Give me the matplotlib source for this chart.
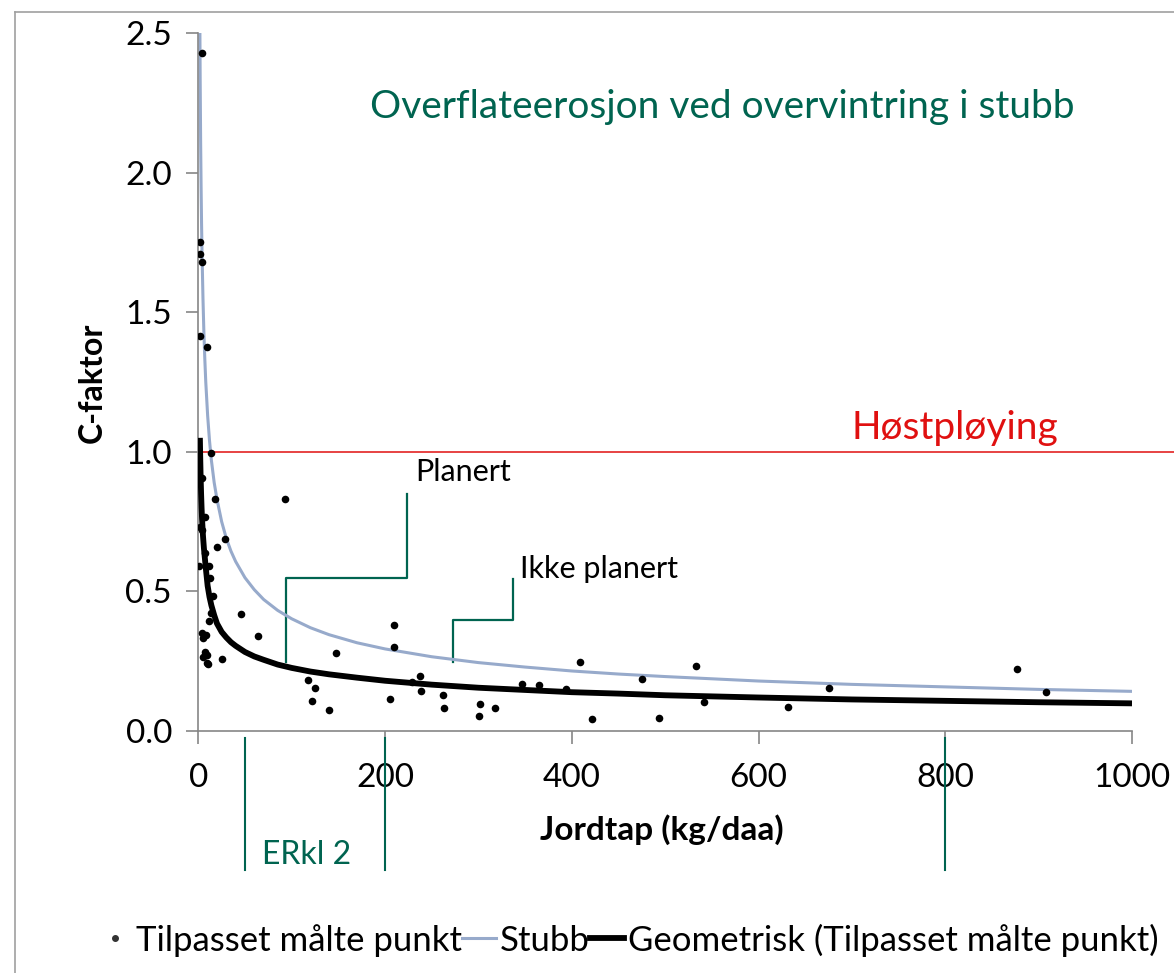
import matplotlib
matplotlib.use("Agg")
import matplotlib.pyplot as plt
from matplotlib.lines import Line2D
from matplotlib.transforms import blended_transform_factory

plt.rcParams['font.family'] = ['Lato', 'DejaVu Sans']

# ---- data ----
pts_x = [4.0, 1.8, 1.8, 4.3, 2.1, 9.0, 13.6, 4.3, 18.2, 92.5, 7.2, 1.8, 3.6, 28.6,
         19.7, 7.2, 1.0, 11.8, 12.5, 15.4, 45.4, 13.3, 11.5, 3.6, 7.9, 5.4, 63.9,
         7.2, 9.0, 4.7, 9.0, 10.7, 25.7, 147.1, 209.5, 209.5, 117.0, 124.9, 121.7,
         140.3, 204.9, 228.5, 237.7, 238.8, 262.3, 263.4, 301.3, 300.2, 317.7,
         346.9, 364.5, 393.4, 409.0, 421.2, 474.7, 493.6, 533.5, 541.5, 631.3,
         675.6, 876.8, 908.2]
pts_y = [2.43, 1.75, 1.71, 1.68, 1.415, 1.374, 0.995, 0.905, 0.831, 0.831, 0.768,
         0.732, 0.72, 0.688, 0.659, 0.639, 0.591, 0.592, 0.547, 0.484, 0.418, 0.421,
         0.393, 0.352, 0.344, 0.332, 0.341, 0.284, 0.272, 0.264, 0.242, 0.239,
         0.257, 0.278, 0.381, 0.302, 0.184, 0.153, 0.109, 0.075, 0.114, 0.174,
         0.196, 0.142, 0.129, 0.082, 0.098, 0.055, 0.082, 0.169, 0.166, 0.149,
         0.247, 0.044, 0.185, 0.048, 0.233, 0.105, 0.085, 0.154, 0.222, 0.138]

curve_x = [1.7, 2, 2.5, 3, 3.5, 4, 5, 6, 7, 8, 10, 12, 14, 17, 20, 25, 30, 35, 40,
           50, 60, 70, 85, 100, 120, 140, 170, 200, 250, 300, 350, 400, 450, 500,
           600, 700, 800, 900, 1000]
stubb_y = [2.51, 2.335, 2.11, 1.945, 1.815, 1.71, 1.55, 1.425, 1.33, 1.25, 1.13,
           1.04, 0.97, 0.89, 0.83, 0.75, 0.69, 0.644, 0.607, 0.549, 0.506, 0.471,
           0.432, 0.402, 0.370, 0.345, 0.316, 0.294, 0.266, 0.245, 0.229, 0.215,
           0.204, 0.195, 0.179, 0.167, 0.158, 0.149, 0.142]
geom_y = [1.05, 0.99, 0.91, 0.85, 0.80, 0.76, 0.70, 0.655, 0.62, 0.585, 0.52,
          0.48, 0.45, 0.415, 0.385, 0.355, 0.335, 0.318, 0.305, 0.283, 0.267,
          0.255, 0.238, 0.226, 0.213, 0.203, 0.191, 0.180, 0.166, 0.155, 0.147,
          0.139, 0.134, 0.128, 0.120, 0.113, 0.108, 0.103, 0.099]

erkl_x = [50, 200, 800]
x_ticks = [0, 200, 400, 600, 800, 1000]
y_ticks = [0.0, 0.5, 1.0, 1.5, 2.0, 2.5]
legend_labels = ['Tilpasset målte punkt', 'Stubb', 'Geometrisk (Tilpasset målte punkt)']

teal = '#006450'
gray = '#868686'
red = '#E01010'

fig = plt.figure(figsize=(11.74, 9.73), dpi=100)
ax = fig.add_axes([198.3 / 1174, 242 / 973, (1132 - 198.3) / 1174, 698 / 973])

ax.plot(curve_x, stubb_y, color='#97AACB', lw=2.2, zorder=2)
ax.plot(curve_x, geom_y, color='black', lw=4.2, zorder=3, solid_capstyle='butt')
ax.scatter(pts_x, pts_y, s=30, color='black', zorder=4, linewidths=0)

ax.set_xlim(0, 1000)
ax.set_ylim(0, 2.5)
ax.set_xticks(x_ticks)
ax.set_xticklabels([str(v) for v in x_ticks])
ax.set_yticks(y_ticks)
ax.set_yticklabels([f'{v:.1f}' for v in y_ticks])
for s in ['top', 'right']:
    ax.spines[s].set_visible(False)
for s in ['left', 'bottom']:
    ax.spines[s].set_color(gray)
    ax.spines[s].set_linewidth(1.2)
ax.tick_params(axis='both', direction='out', length=9, width=1.2, color=gray,
               labelsize=24, labelcolor='black')
ax.tick_params(axis='x', pad=14)
ax.tick_params(axis='y', pad=10)

# Høstpløying reference line
ax.axhline(1.0, xmin=0, xmax=(1174 - 198.3) / 933.7, color=red, lw=1.1,
           clip_on=False, zorder=1)
ax.text(810, 1.085, 'Høstpløying', color=red, fontsize=28, ha='center', va='center')

ax.text(561, 2.235, 'Overflateerosjon ved overvintring i stubb', color=teal,
        fontsize=28, ha='center', va='center')

# annotations
ax.plot([93.9, 93.9, 223.4, 223.4], [0.248, 0.547, 0.547, 0.85], color=teal, lw=1.6, zorder=1)
ax.text(232, 0.928, 'Planert', fontsize=22, ha='left', va='center')
ax.plot([272.4, 272.4, 337, 337], [0.248, 0.398, 0.398, 0.544], color=teal, lw=1.6, zorder=1)
ax.text(345, 0.58, 'Ikke planert', fontsize=22, ha='left', va='center')

# ERkl lines below the axis
trans = blended_transform_factory(ax.transData, ax.transAxes)
for xv in erkl_x:
    ax.plot([xv, xv], [-0.01, -0.199], transform=trans, color=teal, lw=1.5, clip_on=False)
ax.text(116.4, -0.178, 'ERkl 2', transform=trans, color=teal, fontsize=23,
        ha='center', va='center')

fig.text(92 / 1174, 1 - 383 / 973, 'C-faktor', rotation=90, fontsize=23,
         fontweight='bold', ha='center', va='center')
fig.text(662 / 1174, 1 - 830 / 973, 'Jordtap (kg/daa)', fontsize=24,
         fontweight='bold', ha='center', va='center')

# figure border
fig.add_artist(Line2D([15 / 1174, 15 / 1174], [0, 1 - 12 / 973], color='#A0A0A0', lw=1.2))
fig.add_artist(Line2D([15 / 1174, 1], [1 - 12 / 973, 1 - 12 / 973], color='#A0A0A0', lw=1.2))

handles = [Line2D([], [], marker='o', ls='', color='#333333', markersize=4),
           Line2D([], [], color='#97AACB', lw=2.2),
           Line2D([], [], color='black', lw=4.2)]
fig.legend(handles, legend_labels, loc='center', bbox_to_anchor=(628 / 1174, 1 - 940 / 973),
           ncol=3, frameon=False, handlelength=1.0, handletextpad=0.1,
           columnspacing=0.0, fontsize=25)

fig.savefig('out.png', dpi=100)
